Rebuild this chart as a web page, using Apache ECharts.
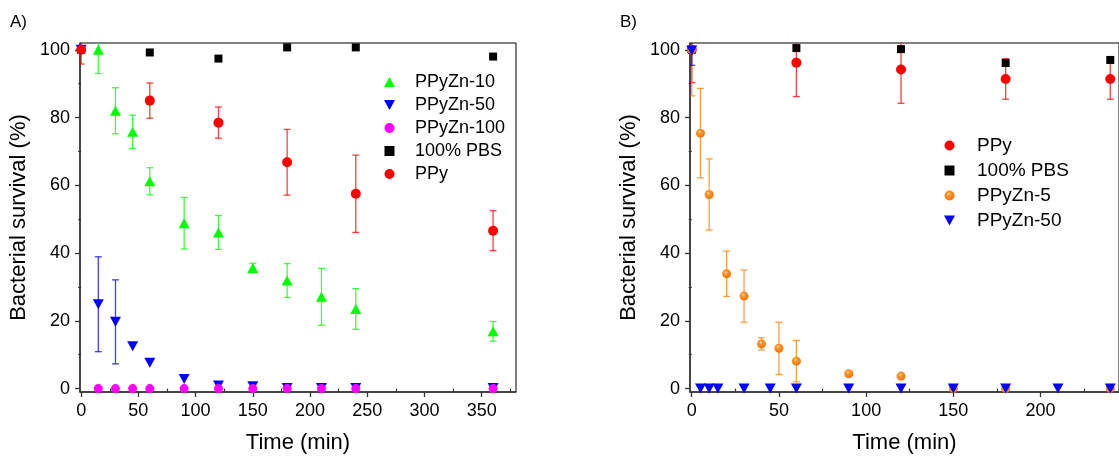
<!DOCTYPE html>
<html><head><meta charset="utf-8">
<script src="https://cdn.jsdelivr.net/npm/echarts@6/dist/echarts.min.js"></script>
<style>html,body{margin:0;padding:0;background:#fff}#c{width:1119px;height:459px}</style>
</head><body><div id="c"></div>
<script>
// ---------- Panel A data ----------
const tA_Zn10 = [15, 30, 45, 60, 90, 120, 150, 180, 210, 240, 360];
const vA_Zn10 = [100, 82, 75.8, 61.2, 48.8, 46.1, 35.6, 31.9, 27.1, 23.5, 16.9];
const eA_Zn10 = [7, 6.8, 4.9, 4, 7.6, 5, 1.4, 5, 8.4, 6, 2.9];

const tA_Zn50 = [0, 15, 30, 45, 60, 90, 120, 150, 180, 210, 240, 360];
const vA_Zn50 = [100, 24.9, 19.7, 12.5, 7.6, 2.8, 0.9, 0.7, 0.2, 0.2, 0.2, 0.2];
const eA_Zn50 = [0, 14, 12.4, 0, 0, 0, 0, 0, 0, 0, 0, 0];

const tA_Zn100 = [15, 30, 45, 60, 90, 120, 150, 180, 210, 240, 360];
const vA_Zn100 = [0, 0, 0, 0, 0, 0, 0, 0, 0, 0, 0];

const tA_PBS = [0, 60, 120, 180, 240, 360];
const vA_PBS = [100, 99.2, 97.4, 100.7, 100.7, 98];

const tA_PPy = [0, 60, 120, 180, 240, 360];
const vA_PPy = [100, 85, 78.5, 66.8, 57.5, 46.6];
const eA_PPy = [4.2, 5.2, 4.6, 9.7, 11.4, 5.9];

// ---------- Panel B data ----------
const tB_PPy = [0, 60, 120, 180, 240];
const vB_PPy = [100, 96.2, 94.2, 91.4, 91.4];
const eB_PPy = [9.7, 10, 10, 6, 6];

const tB_PBS = [0, 60, 120, 180, 240];
const vB_PBS = [100, 100.5, 100.2, 96.1, 97];

const tB_Zn5 = [0, 5, 10, 20, 30, 40, 50, 60, 90, 120, 150, 180, 240];
const vB_Zn5 = [100, 75.4, 57.3, 33.9, 27.3, 13.2, 11.9, 8.1, 4.4, 3.7, 0, 0, 0];
const eB_Zn5 = [13.6, 13.2, 10.5, 6.7, 7.7, 1.8, 7.7, 6.1, 0.6, 0, 0, 0, 0];

const tB_Zn50 = [0, 5, 10, 15, 30, 45, 60, 90, 120, 150, 180, 210, 240];
const vB_Zn50 = [99.8, 0, 0, 0, 0, 0, 0, 0, 0, 0, 0, 0, 0];
const eB_Zn50 = [4.4, 0, 0, 0, 0, 0, 0, 0, 0, 0, 0, 0, 0];

// ---------- axis ticks ----------
const ticksXA = [0, 50, 100, 150, 200, 250, 300, 350];
const minorXA = [25, 75, 125, 175, 225, 275, 325, 375];
const ticksXB = [0, 50, 100, 150, 200];
const minorXB = [25, 75, 125, 175, 225];
const ticksY = [0, 20, 40, 60, 80, 100];
const minorY = [10, 30, 50, 70, 90];

const FONT = 'Arial, "Liberation Sans", sans-serif';
const GREEN = '#00ff00', BLUE = '#0000ff', MAG = '#ff00ff', BLACK = '#000000', RED = '#ff0000', ORANGE = '#ff8000';
const sphere = {type: 'radial', x: 0.4, y: 0.35, r: 0.65, colorStops: [
  {offset: 0, color: '#ffe6c8'}, {offset: 0.25, color: '#ff9a30'}, {offset: 1, color: '#f07400'}]};
const triDown = 'path://M0,0L20,0L10,18Z';
const triUp = 'path://M10,0L20,18L0,18Z';
const square = 'path://M0,0L10,0L10,10L0,10Z';

function pts(t, v) { return t.map((x, i) => [x, v[i]]); }
function errs(t, v, e) { return t.map((x, i) => [x, v[i] - e[i], v[i] + e[i]]).filter((d, i) => e[i] > 0); }

function errSeries(xi, yi, data, color) {
  return {
    type: 'custom', xAxisIndex: xi, yAxisIndex: yi, data: data, clip: true, z: 1, silent: true,
    renderItem: function (params, api) {
      const x = api.value(0), lo = api.value(1), hi = api.value(2);
      const a = api.coord([x, hi]), b = api.coord([x, lo]);
      const w = 3.5;
      const st = {stroke: color, lineWidth: 1.3, opacity: 0.75};
      return {type: 'group', children: [
        {type: 'line', shape: {x1: a[0], y1: a[1], x2: b[0], y2: b[1]}, style: st},
        {type: 'line', shape: {x1: a[0] - w, y1: a[1], x2: a[0] + w, y2: a[1]}, style: st},
        {type: 'line', shape: {x1: b[0] - w, y1: b[1], x2: b[0] + w, y2: b[1]}, style: st}
      ]};
    }
  };
}
function scat(name, xi, yi, data, symbol, size, color) {
  return {type: 'scatter', name: name, xAxisIndex: xi, yAxisIndex: yi, data: data,
    symbol: symbol, symbolSize: size, itemStyle: {color: color, opacity: 1}, z: 3, clip: false,
    emphasis: {disabled: true}};
}

function xMain(gi, min, max, ticks) {
  return {type: 'value', gridIndex: gi, min: min, max: max, position: 'bottom',
    name: 'Time (min)', nameLocation: 'middle', nameGap: 40,
    nameTextStyle: {fontFamily: FONT, fontSize: 22, color: '#000'},
    axisLine: {show: true, onZero: false, lineStyle: {color: '#333', width: 1.5}},
    axisTick: {show: true, customValues: ticks, length: 5, inside: false, lineStyle: {color: '#333', width: 1.3}},
    axisLabel: {show: true, customValues: ticks, margin: 10, fontFamily: FONT, fontSize: 18, color: '#000'},
    splitLine: {show: false}};
}
function xMinor(gi, min, max, ticks) {
  return {type: 'value', gridIndex: gi, min: min, max: max, position: 'bottom', offset: 0,
    axisLine: {show: false}, axisLabel: {show: false}, splitLine: {show: false},
    axisTick: {show: true, customValues: ticks, length: 3, lineStyle: {color: '#333', width: 1.2}}};
}
function yMain(gi) {
  return {type: 'value', gridIndex: gi, min: -1, max: 102, position: 'left',
    name: 'Bacterial survival (%)', nameLocation: 'middle', nameGap: 50,
    nameTextStyle: {fontFamily: FONT, fontSize: 22, color: '#000'},
    axisLine: {show: true, onZero: false, lineStyle: {color: '#333', width: 1.5}},
    axisTick: {show: true, customValues: ticksY, length: 5, lineStyle: {color: '#333', width: 1.3}},
    axisLabel: {show: true, customValues: ticksY, margin: 10, fontFamily: FONT, fontSize: 18, color: '#000'},
    splitLine: {show: false}};
}
function yMinor(gi) {
  return {type: 'value', gridIndex: gi, min: -1, max: 102, position: 'left', offset: 0,
    axisLine: {show: false}, axisLabel: {show: false}, splitLine: {show: false},
    axisTick: {show: true, customValues: minorY, length: 3, lineStyle: {color: '#333', width: 1.2}}};
}

const chart = echarts.init(document.getElementById('c'), null, {renderer: 'canvas'});
const option = {
  animation: false,
  backgroundColor: '#fff',
  textStyle: {fontFamily: FONT},
  grid: [
    {left: 80, top: 43, width: 436, height: 350, show: true, borderColor: '#000', borderWidth: 1, backgroundColor: 'transparent'},
    {left: 690, top: 43, width: 436, height: 350, show: true, borderColor: '#000', borderWidth: 1, backgroundColor: 'transparent'}
  ],
  xAxis: [xMain(0, -1, 380, ticksXA), xMinor(0, -1, 380, minorXA), xMain(1, -1, 245, ticksXB), xMinor(1, -1, 245, minorXB)],
  yAxis: [yMain(0), yMinor(0), yMain(1), yMinor(1)],
  legend: [
    {orient: 'vertical', left: 384, top: 73, padding: 0, itemGap: 5, itemWidth: 11, itemHeight: 10,
      selectedMode: false, textStyle: {fontFamily: FONT, fontSize: 18, color: '#000', padding: [0, 0, 0, 15]},
      data: ['PPyZn-10', 'PPyZn-50', 'PPyZn-100', '100% PBS', 'PPy']},
    {orient: 'vertical', left: 944, top: 136, padding: 0, itemGap: 6, itemWidth: 11, itemHeight: 10,
      selectedMode: false, textStyle: {fontFamily: FONT, fontSize: 19, color: '#000', padding: [0, 0, 0, 17]},
      data: ['PPy ', '100% PBS ', 'PPyZn-5', 'PPyZn-50 ']}
  ],
  graphic: [
    {type: 'text', left: 10, top: 14, style: {text: 'A)', font: '17px ' + FONT, fill: '#000'}},
    {type: 'text', left: 620, top: 14, style: {text: 'B)', font: '17px ' + FONT, fill: '#000'}}
  ],
  series: [
    // Panel A
    errSeries(0, 0, errs(tA_Zn10, vA_Zn10, eA_Zn10), GREEN),
    errSeries(0, 0, errs(tA_Zn50, vA_Zn50, eA_Zn50), BLUE),
    errSeries(0, 0, errs(tA_PPy, vA_PPy, eA_PPy), RED),
    scat('PPyZn-10', 0, 0, pts(tA_Zn10, vA_Zn10), triUp, [11, 10], GREEN),
    scat('PPyZn-50', 0, 0, pts(tA_Zn50, vA_Zn50), triDown, [11, 10], BLUE),
    scat('PPyZn-100', 0, 0, pts(tA_Zn100, vA_Zn100), 'circle', 9, MAG),
    scat('100% PBS', 0, 0, pts(tA_PBS, vA_PBS), square, 8, BLACK),
    scat('PPy', 0, 0, pts(tA_PPy, vA_PPy), 'circle', 10, RED),
    // Panel B
    errSeries(2, 2, errs(tB_PPy, vB_PPy, eB_PPy), RED),
    errSeries(2, 2, errs(tB_Zn5, vB_Zn5, eB_Zn5), ORANGE),
    errSeries(2, 2, errs(tB_Zn50, vB_Zn50, eB_Zn50), BLUE),
    scat('PPy ', 2, 2, pts(tB_PPy, vB_PPy), 'circle', 10, RED),
    scat('100% PBS ', 2, 2, pts(tB_PBS, vB_PBS), square, 8, BLACK),
    scat('PPyZn-5', 2, 2, pts(tB_Zn5, vB_Zn5), 'circle', 9, sphere),
    scat('PPyZn-50 ', 2, 2, pts(tB_Zn50, vB_Zn50), triDown, [11, 10], BLUE)
  ]
};
chart.setOption(option);
</script>
</body></html>
